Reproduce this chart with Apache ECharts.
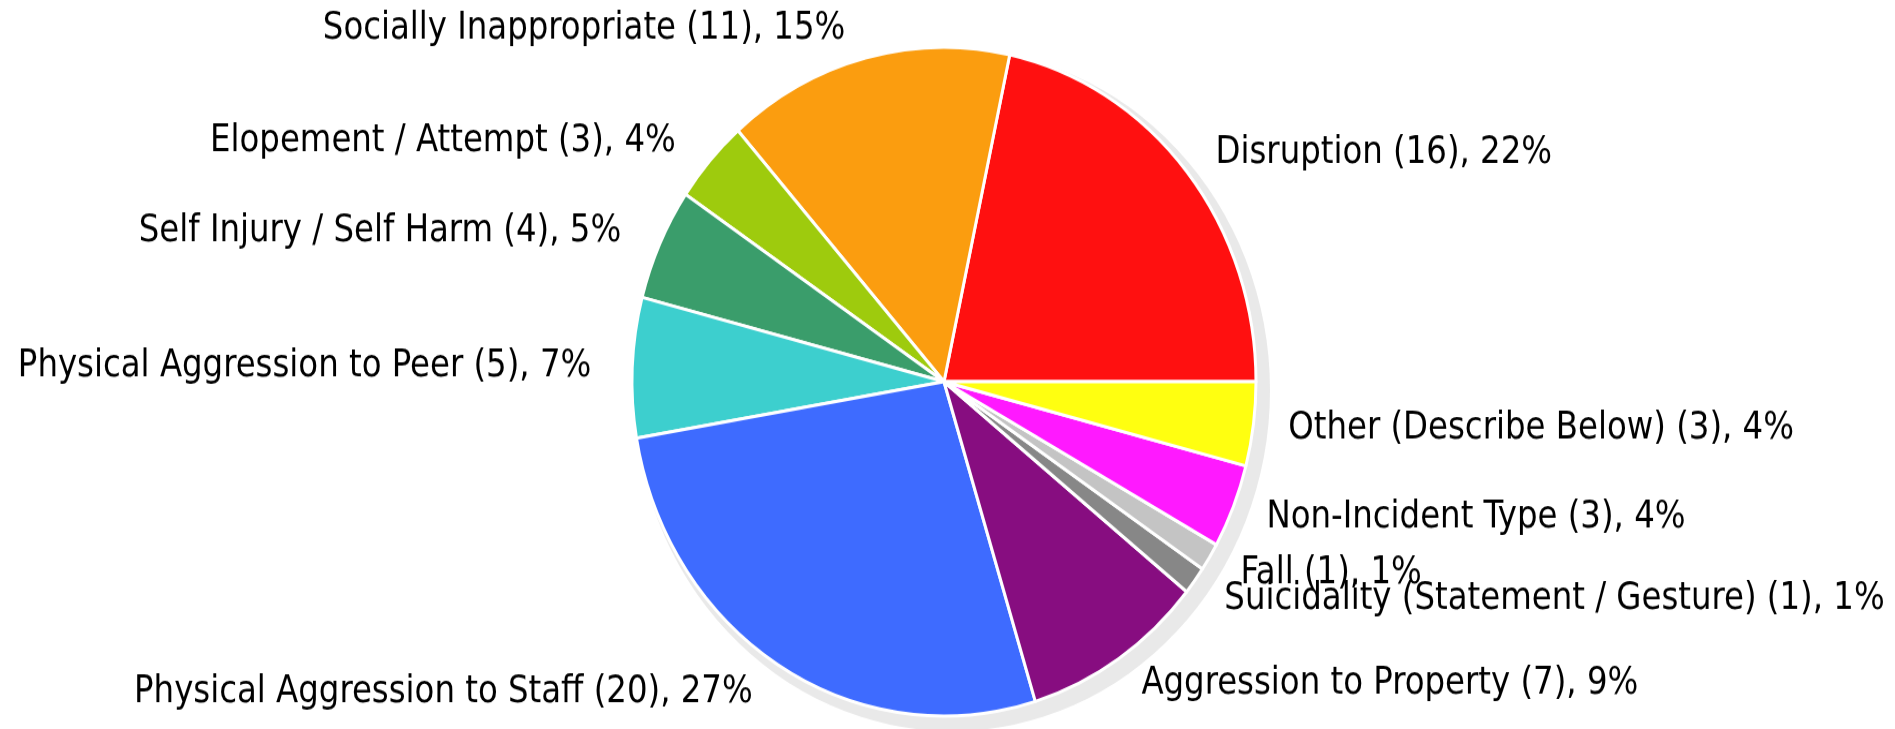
<!DOCTYPE html>
<html>
<head>
<meta charset="utf-8">
<script src="https://cdn.jsdelivr.net/npm/echarts@6/dist/echarts.min.js"></script>
<style>
  html, body { margin: 0; padding: 0; background: #fff; overflow: hidden; }
  #wrap { width: 1895px; height: 729px; overflow: hidden; }
  /* the reference is stretched a little vertically, so the pie is drawn round and scaled */
  #chart { width: 1895px; height: 680px; transform: scaleY(1.072); transform-origin: 0 0; }
</style>
</head>
<body>
<div id="wrap"><div id="chart"></div></div>
<script>
var categories = [
    'Disruption',
    'Socially Inappropriate',
    'Elopement / Attempt',
    'Self Injury / Self Harm',
    'Physical Aggression to Peer',
    'Physical Aggression to Staff',
    'Aggression to Property',
    'Suicidality (Statement / Gesture)',
    'Fall',
    'Non-Incident Type',
    'Other (Describe Below)'
];
var counts = [16, 11, 3, 4, 5, 20, 7, 1, 1, 3, 3];
var colorList = [
    '#FF1010', '#FB9D0F', '#9ECB0D', '#3A9D6B', '#3DCFCE', '#3E6BFF',
    '#870D80', '#878787', '#C4C4C4', '#FF19FF', '#FFFF10'
];

var total = 0;
for (var i = 0; i < counts.length; i++) {
    total += counts[i];
}
var pieData = [];
for (var j = 0; j < categories.length; j++) {
    pieData.push({ name: categories[j], value: counts[j] });
}

var myChart = echarts.init(document.getElementById('chart'));
myChart.setOption({
    animation: false,
    series: [
        {
            // soft grey shadow under the pie
            type: 'pie',
            silent: true,
            center: [952, 364],
            radius: [0, 318],
            label: { show: false },
            labelLine: { show: false },
            itemStyle: { color: '#E9E9E9' },
            data: [{ name: 'shadow', value: total }]
        },
        {
            type: 'pie',
            center: [944, 356],
            radius: [0, 312],
            startAngle: 0,
            clockwise: false,
            avoidLabelOverlap: false,
            labelLayout: { hideOverlap: false },
            itemStyle: {
                borderColor: '#fff',
                borderWidth: 3,
                color: function (params) {
                    return colorList[params.dataIndex % colorList.length];
                }
            },
            label: {
                show: true,
                position: 'outside',
                color: '#000',
                fontFamily: 'DejaVu Sans Condensed',
                fontSize: 36,
                padding: [8, 6, 0, 0],
                formatter: function (params) {
                    var pct = Math.round(params.value / total * 100);
                    return params.name + ' (' + params.value + '), ' + pct + '%';
                }
            },
            labelLine: { show: false, length: 28, length2: 2 },
            data: pieData
        }
    ]
});
</script>
</body>
</html>
